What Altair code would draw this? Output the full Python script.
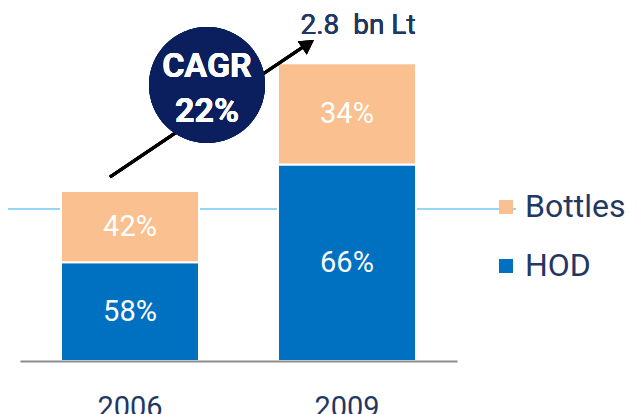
import altair as alt
import pandas as pd

# ---- data ----
years = ["2006", "2009"]
totals = [1.6, 2.8]            # bn Lt
hod_share = [58, 66]           # %
bottles_share = [42, 34]       # %
legend_order = ["Bottles", "HOD"]
colors = ["#fac090", "#0070c0"]
cagr_text = ["CAGR", "22%"]
total_label = "2.8\u00a0\u00a0bn Lt"
ref_line_value = 1.43
y_max = 3.32

FONT = "Roboto, Liberation Sans, sans-serif"
NAVY = "#1f3864"

rows = []
for yr, tot, h, b in zip(years, totals, hod_share, bottles_share):
    hv = tot * h / 100
    bv = tot * b / 100
    rows.append(dict(year=yr, segment="HOD", share=h, start=0.0, end=hv))
    rows.append(dict(year=yr, segment="Bottles", share=b, start=hv, end=hv + bv))
df = pd.DataFrame(rows)
df["mid"] = (df["start"] + df["end"]) / 2
df["label"] = df["share"].astype(str) + "%"

x_enc = alt.X(
    "year:N",
    scale=alt.Scale(domain=years, paddingInner=0.364, paddingOuter=0.189),
    axis=alt.Axis(
        title=None, labelAngle=0, ticks=False, tickSize=0, grid=False,
        domainColor="#8c8c8c", domainWidth=2, zindex=1,
        labelFont=FONT, labelFontSize=29, labelColor=NAVY,
        labelPadding=32, labelBaseline="top",
    ),
)
y_scale = alt.Scale(domain=[0, y_max], nice=False, zero=True)

ref_rule = alt.Chart(df).mark_rule(color="#8fd3f5", strokeWidth=1).encode(
    y=alt.Y(datum=ref_line_value, type="quantitative", scale=y_scale, axis=None),
    x=alt.value(-12),
    x2=alt.value(496),
)

bars = alt.Chart(df).mark_bar(stroke="white", strokeWidth=2).encode(
    x=x_enc,
    y=alt.Y("start:Q", scale=y_scale, axis=None),
    y2="end:Q",
    color=alt.Color(
        "segment:N",
        scale=alt.Scale(domain=legend_order, range=colors),
        legend=alt.Legend(
            title=None, orient="none", legendX=470, legendY=183,
            symbolType="square", symbolSize=196, symbolStrokeWidth=0,
            labelFont=FONT, labelFontSize=32, labelColor=NAVY,
            rowPadding=27, labelOffset=3, padding=0,
        ),
    ),
)

labels = alt.Chart(df).mark_text(
    color="white", font=FONT, fontSize=29, baseline="middle", align="center"
).encode(
    x=alt.X("year:N"),
    y=alt.Y("mid:Q", scale=y_scale),
    text="label:N",
)

arrow_line = alt.Chart(df).mark_rule(color="black", strokeWidth=3).encode(
    x=alt.value(90), y=alt.value(169), x2=alt.value(286), y2=alt.value(37)
)
arrow_head = alt.Chart(df).mark_point(
    shape="triangle-up", filled=True, size=256, angle=56, color="black", opacity=1
).encode(x=alt.value(288), y=alt.value(36))

circle = alt.Chart(df).mark_circle(size=13456, color="#0b1f5e", opacity=1).encode(
    x=alt.value(187), y=alt.value(77)
)
circle_text = alt.Chart(df).mark_text(
    color="white", font=FONT, fontSize=34, fontWeight="bold",
    baseline="alphabetic", align="center", lineHeight=45,
).encode(x=alt.value(187), y=alt.value(69), text=alt.value(cagr_text))

total_text = alt.Chart(df).mark_text(
    color=NAVY, font=FONT, fontSize=28, fontWeight="normal",
    baseline="alphabetic", align="center",
).encode(x=alt.value(338), y=alt.value(26), text=alt.value(total_label))

chart = alt.layer(
    ref_rule, bars, labels, arrow_line, arrow_head, circle, circle_text, total_text
).properties(
    width=437, height=353,
    padding={"left": 12, "top": 0, "right": 172, "bottom": 53},
    autosize=alt.AutoSizeParams(type="none"),
).configure_view(stroke=None)

chart.save("out.html", embed_options={"renderer": "svg", "actions": False})
